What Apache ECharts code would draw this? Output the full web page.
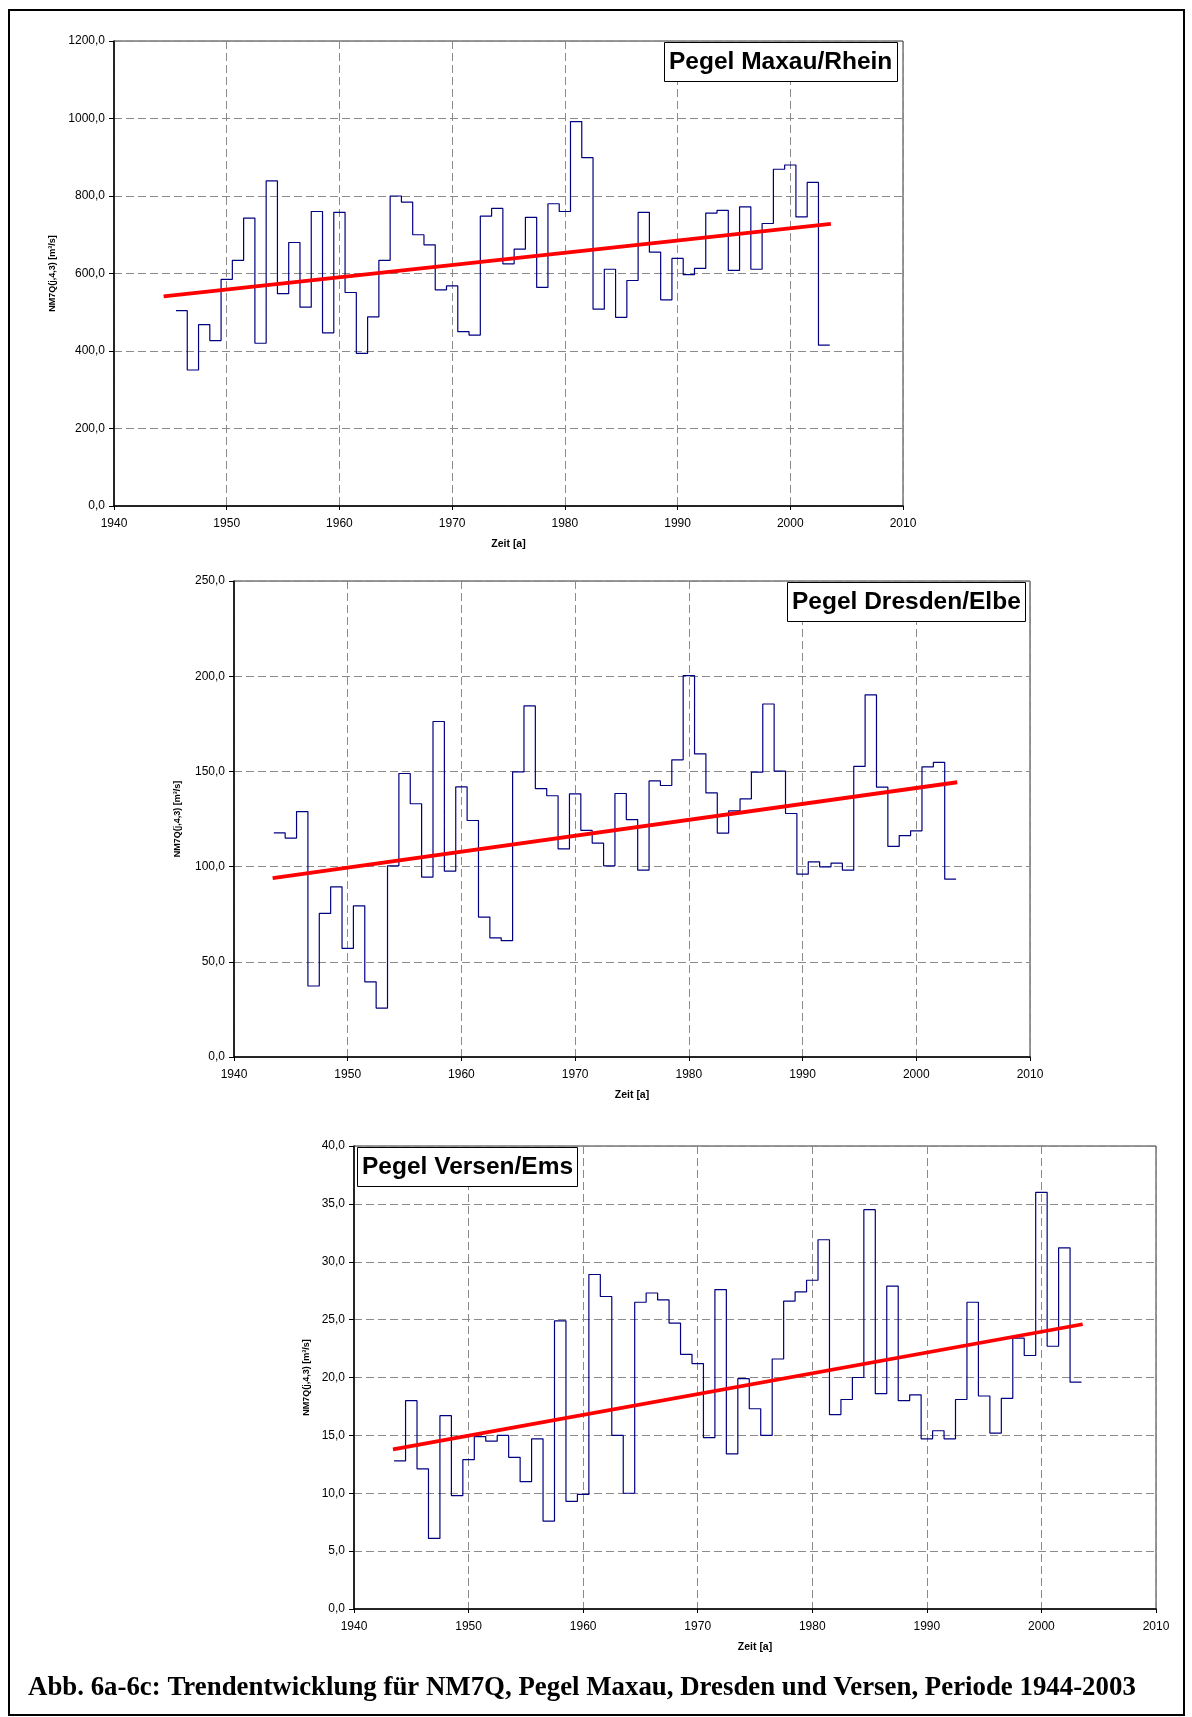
<!DOCTYPE html>
<html>
<head>
<meta charset="utf-8">
<script src="https://cdn.jsdelivr.net/npm/echarts@6/dist/echarts.min.js"></script>
<style>
  html, body { margin: 0; padding: 0; background: #fff; }
  #main { width: 1192px; height: 1717px; }
</style>
</head>
<body>
<div id="main"></div>
<script>
// NM7Q values per year
const maxauStart = 1946;
const maxauValues = [504, 351, 468, 427, 585, 634, 743, 420, 839, 548, 680, 513, 760, 447, 758, 551, 394, 488, 634, 800,
  784, 700, 674, 558, 568, 450, 441, 748, 768, 625, 663, 745, 564, 780, 760, 992, 899, 508, 611, 487,
  582, 758, 655, 532, 639, 597, 613, 756, 763, 608, 772, 611, 729, 869, 880, 746, 835, 415];
const maxauTrendYears = [1944.4, 2003.6];
const maxauTrendValues = [541, 728];

const dresdenStart = 1944;
const dresdenValues = [117.7, 115.0, 128.9, 37.3, 75.4, 89.4, 57.0, 79.4, 39.5, 25.7,
  100.4, 148.9, 133.0, 94.5, 176.2, 97.6, 141.9, 124.2, 73.5, 62.6,
  61.1, 149.8, 184.4, 141.0, 137.2, 109.3, 138.2, 119.0, 112.3, 100.4,
  138.4, 124.7, 98.1, 145.0, 142.6, 156.1, 200.3, 159.2, 138.7, 117.6,
  129.3, 135.6, 149.6, 185.4, 150.1, 127.9, 96.0, 102.5, 99.9, 101.8,
  98.1, 152.6, 190.2, 141.7, 110.6, 116.3, 118.8, 152.4, 154.7, 93.4];
const dresdenTrendYears = [1943.4, 2003.6];
const dresdenTrendValues = [94.0, 144.3];

const versenStart = 1944;
const versenValues = [12.8, 18.0, 12.1, 6.1, 16.7, 9.8, 12.9, 14.9, 14.5, 15.0,
  13.1, 11.0, 14.7, 7.6, 24.9, 9.3, 9.9, 28.9, 27.0, 15.0,
  10.0, 26.5, 27.3, 26.7, 24.7, 22.0, 21.2, 14.8, 27.6, 13.4,
  19.9, 17.3, 15.0, 21.6, 26.6, 27.4, 28.4, 31.9, 16.8, 18.1,
  20.0, 34.5, 18.6, 27.9, 18.0, 18.5, 14.7, 15.4, 14.7, 18.1,
  26.5, 18.4, 15.2, 18.2, 23.4, 21.9, 36.0, 22.7, 31.2, 19.6];
const versenTrendYears = [1943.4, 2003.6];
const versenTrendValues = [13.8, 24.6];

const yMax = [1200, 250, 40];
const yInterval = [200, 50, 5];
const titles = ['Pegel Maxau/Rhein', 'Pegel Dresden/Elbe', 'Pegel Versen/Ems'];

// each year is drawn as a flat step one year wide, centred on the year
function stepData(start, vals) {
  let d = vals.map((v, i) => [start + i - 0.5, v]);
  d.push([start + vals.length - 0.5, vals[vals.length - 1]]);
  return d;
}
function trendData(years, vals) {
  return years.map((y, i) => [y, vals[i]]);
}

const font = 'Liberation Sans';

function xAxisFor(idx) {
  return {
    type: 'value', gridIndex: idx, min: 1940, max: 2010, interval: 10,
    name: 'Zeit [a]', nameLocation: 'middle', nameGap: 33,
    nameTextStyle: { fontFamily: font, fontSize: 10.5, fontWeight: 'bold', color: '#000' },
    axisLine: { onZero: false, lineStyle: { color: '#000', width: 1.5 } },
    axisTick: { show: true, length: 4, lineStyle: { color: '#000' } },
    axisLabel: { color: '#000', fontFamily: font, fontSize: 12, margin: 12, formatter: v => String(v) },
    splitLine: { show: true, lineStyle: { color: '#8a8a8a', type: [8, 4], width: 1 } }
  };
}
function yAxisFor(idx, gap) {
  return {
    type: 'value', gridIndex: idx, min: 0, max: yMax[idx], interval: yInterval[idx],
    name: 'NM7Q(j,4,3) [m³/s]', nameLocation: 'middle', nameRotate: 90, nameGap: gap,
    nameTextStyle: { fontFamily: font, fontSize: 9, fontWeight: 'bold', color: '#000' },
    axisLine: { show: true, onZero: false, lineStyle: { color: '#000', width: 1.5 } },
    axisTick: { show: true, length: 5, lineStyle: { color: '#000' } },
    axisLabel: { color: '#000', fontFamily: font, fontSize: 12, margin: 9,
      formatter: v => v.toFixed(1).replace('.', ',') },
    splitLine: { show: true, lineStyle: { color: '#8a8a8a', type: [8, 4], width: 1 } }
  };
}
function titleFor(idx, left, top) {
  return {
    text: titles[idx], left: left, top: top,
    padding: [7, 5, 7, 5], borderColor: '#000', borderWidth: 1, backgroundColor: '#fff',
    textStyle: { fontFamily: font, fontSize: 24.5, fontWeight: 'bold', color: '#000', lineHeight: 26 }
  };
}
function stepSeries(idx, data) {
  return {
    type: 'line', xAxisIndex: idx, yAxisIndex: idx, step: 'end', data: data,
    showSymbol: false, symbol: 'none', lineStyle: { color: '#000080', width: 1.2 }, z: 2
  };
}
function trendSeries(idx, data) {
  return {
    type: 'line', xAxisIndex: idx, yAxisIndex: idx, data: data,
    showSymbol: false, symbol: 'none', lineStyle: { color: '#ff0000', width: 3.8 }, z: 3
  };
}

let myChart = echarts.init(document.getElementById('main'));
myChart.setOption({
  animation: false,
  backgroundColor: '#fff',
  title: [
    titleFor(0, 664, 42),
    titleFor(1, 787, 582),
    titleFor(2, 357, 1147)
  ],
  grid: [
    { left: 114, top: 41, width: 789, height: 465, show: true, borderColor: '#333', borderWidth: 1 },
    { left: 234, top: 581, width: 796, height: 476, show: true, borderColor: '#333', borderWidth: 1 },
    { left: 354, top: 1146, width: 802, height: 463, show: true, borderColor: '#333', borderWidth: 1 }
  ],
  xAxis: [xAxisFor(0), xAxisFor(1), xAxisFor(2)],
  yAxis: [yAxisFor(0, 55), yAxisFor(1, 52), yAxisFor(2, 43)],
  series: [
    stepSeries(0, stepData(maxauStart, maxauValues)),
    trendSeries(0, trendData(maxauTrendYears, maxauTrendValues)),
    stepSeries(1, stepData(dresdenStart, dresdenValues)),
    trendSeries(1, trendData(dresdenTrendYears, dresdenTrendValues)),
    stepSeries(2, stepData(versenStart, versenValues)),
    trendSeries(2, trendData(versenTrendYears, versenTrendValues))
  ],
  graphic: [
    {
      type: 'rect', silent: true,
      shape: { x: 9, y: 10, width: 1175, height: 1705 },
      style: { fill: 'none', stroke: '#000', lineWidth: 2 }
    },
    {
      type: 'text', x: 28, y: 1688, scaleX: 1.013, silent: true,
      style: {
        text: 'Abb. 6a-6c: Trendentwicklung für NM7Q, Pegel Maxau, Dresden und Versen, Periode 1944-2003',
        fontFamily: 'Liberation Serif', fontSize: 26.5, fontWeight: 'bold', fill: '#000',
        verticalAlign: 'middle'
      }
    }
  ]
});
</script>
</body>
</html>
